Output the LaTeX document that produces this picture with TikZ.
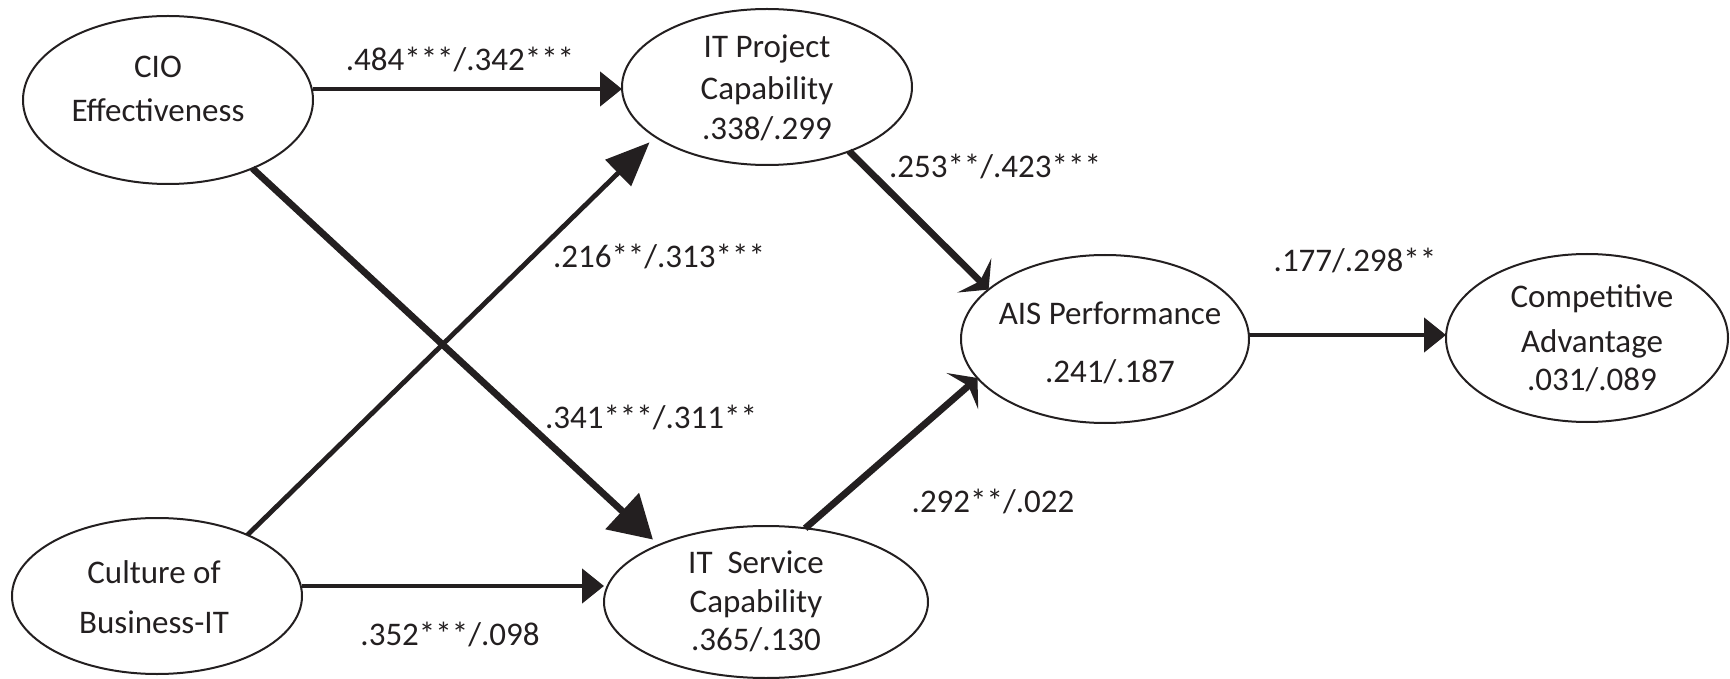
\documentclass[tikz,border=0pt]{standalone}
\usepackage{fontspec}
\setmainfont{Carlito}
\usetikzlibrary{arrows.meta,shapes.geometric}
\definecolor{ink}{HTML}{231F20}
\begin{document}
\begin{tikzpicture}[x=0.5pt,y=-0.5pt,
  ell/.style={draw=ink, line width=1pt, ellipse, inner sep=0pt, outer sep=0pt},
  lbl/.style={anchor=base, inner sep=0pt, text=ink, font=\fontsize{16.5}{20}\selectfont},
  conn/.style={draw=ink, line width=2.4pt},
  heavy/.style={draw=ink, line width=3.4pt},
  flat/.style={-{Triangle[length=11pt,width=17pt]}},
  bigtip/.style={-{Triangle[length=21pt,width=24pt]}},
  longtip/.style={-{Triangle[length=22pt,width=18pt]}},
  swept/.style={-{Stealth[length=10pt,width=24pt,inset=4pt]}}
]
\useasboundingbox (0,0) rectangle (1730,679);

% constructs
\node[ell, minimum width=145pt, minimum height=84pt] (cio) at (168,100) {};
\node[ell, minimum width=145pt, minimum height=78pt] (itp) at (767,87) {};
\node[ell, minimum width=145pt, minimum height=78pt] (cul) at (157,596) {};
\node[ell, minimum width=162pt, minimum height=76pt] (its) at (766,602) {};
\node[ell, minimum width=144pt, minimum height=84pt] (ais) at (1105,339) {};
\node[ell, minimum width=141pt, minimum height=84pt] (comp) at (1587,338) {};

% construct texts
\node[lbl] (cio-a) at (158,78) {CIO};
\node[lbl] (cio-b) at (158,122) {Effectiveness};
\node[lbl] (itp-a) at (767,58) {IT Project};
\node[lbl] (itp-b) at (767,100) {Capability};
\node[lbl] (itp-c) at (767,140) {.338/.299};
\node[lbl] (cul-a) at (154,583) {Culture of};
\node[lbl] (cul-b) at (154,633) {Business-IT};
\node[lbl] (its-a) at (756,573) {IT\ \ Service};
\node[lbl] (its-b) at (756,612) {Capability};
\node[lbl] (its-c) at (756,650) {.365/.130};
\node[lbl] (ais-a) at (1110,325) {AIS Performance};
\node[lbl] (ais-b) at (1110,382) {.241/.187};
\node[lbl] (comp-a) at (1592,307) {Competitive};
\node[lbl] (comp-b) at (1592,352) {Advantage};
\node[lbl] (comp-c) at (1592,390) {.031/.089};

% horizontal paths
\coordinate (r1) at (0,89);
\coordinate (r2) at (0,586);
\coordinate (r3) at (0,335);
\draw[conn, flat] (r1 -| cio.east) -- (r1 -| itp.west);
\draw[conn, flat] (r2 -| cul.east) -- (r2 -| its.west);
\draw[conn, flat] (r3 -| ais.east) -- (r3 -| comp.west);

% diagonal paths
\draw[heavy, bigtip, shorten >=4pt] (cio.-39.4) -- (its.152.5);
\draw[conn, longtip, shorten >=4pt] (cul.34.7) -- (itp.-156.2);
\draw[heavy, swept] (itp.-38.5) -- (ais.157.8);
\draw[heavy, swept] (its.62.2) -- (ais.197.5);

% path coefficients
\node[lbl] (p1) at (460,71) {.484***/.342***};
\node[lbl] (p2) at (995,178) {.253**/.423***};
\node[lbl] (p3) at (659,268) {.216**/.313***};
\node[lbl] (p4) at (1355,272) {.177/.298**};
\node[lbl] (p5) at (651,428) {.341***/.311**};
\node[lbl] (p6) at (993,512) {.292**/.022};
\node[lbl] (p7) at (450,645) {.352***/.098};
\end{tikzpicture}
\end{document}
